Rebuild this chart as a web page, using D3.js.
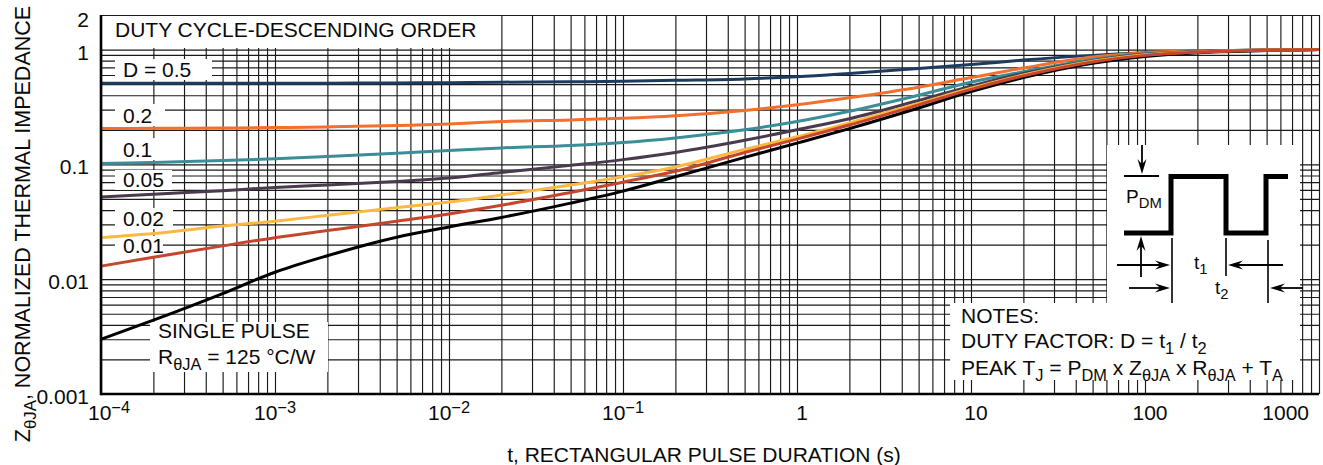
<!DOCTYPE html>
<html>
<head>
<meta charset="utf-8" />
<title></title>
<style>
html, body {
    padding: 0px;
    margin: 0px;
    background: #fff;
}
svg text {
    font-family: "Liberation Sans", Arial, Helvetica, sans-serif;
    fill: #0a0a0a;
}
.grid line {
    stroke: #1a1a1a;
    stroke-width: 1.15;
}
</style>
</head>
<body>
<svg id="chart" width="1323" height="465"></svg>

<script src="https://d3js.org/d3.v7.min.js"></script>
<script>
!(function(){
    "use strict"

    // pulse duration (s)
    var pulseT = [1e-4, 2e-4, 5e-4, 1e-3, 2e-3, 5e-3, 1e-2, 2e-2, 5e-2, 0.1, 0.2, 0.5, 1, 2, 5, 10, 20, 50, 100, 200, 500, 1000]

    // normalized thermal impedance, one array per duty cycle
    var zD05   = [0.508, 0.508, 0.508, 0.508, 0.509, 0.512, 0.515, 0.52, 0.524, 0.53, 0.54, 0.555, 0.58, 0.62, 0.685, 0.74, 0.81, 0.89, 0.94, 0.97, 0.99, 1.0]
    var zD02   = [0.205, 0.206, 0.207, 0.209, 0.212, 0.218, 0.225, 0.236, 0.244, 0.252, 0.265, 0.295, 0.33, 0.38, 0.47, 0.57, 0.69, 0.86, 0.94, 0.97, 0.99, 1.0]
    var zD01   = [0.102, 0.104, 0.108, 0.112, 0.117, 0.125, 0.132, 0.139, 0.146, 0.155, 0.17, 0.2, 0.236, 0.29, 0.40, 0.52, 0.64, 0.82, 0.92, 0.96, 0.99, 1.0]
    var zD005  = [0.052, 0.055, 0.059, 0.063, 0.066, 0.071, 0.076, 0.085, 0.098, 0.11, 0.127, 0.162, 0.2, 0.25, 0.36, 0.48, 0.62, 0.80, 0.91, 0.96, 0.99, 1.0]
    var zD002  = [0.023, 0.025, 0.029, 0.032, 0.036, 0.042, 0.047, 0.054, 0.066, 0.078, 0.095, 0.135, 0.174, 0.23, 0.34, 0.46, 0.60, 0.79, 0.90, 0.95, 0.99, 1.0]
    var zD001  = [0.013, 0.0155, 0.0195, 0.023, 0.0265, 0.032, 0.037, 0.044, 0.057, 0.07, 0.087, 0.127, 0.166, 0.22, 0.33, 0.45, 0.59, 0.78, 0.89, 0.95, 0.99, 1.0]
    var zSingle = [0.0030, 0.0044, 0.0075, 0.0115, 0.016, 0.0232, 0.0285, 0.0345, 0.046, 0.0585, 0.078, 0.115, 0.153, 0.205, 0.31, 0.43, 0.57, 0.76, 0.87, 0.94, 0.98, 1.0]

    // drawing order (black under the coloured ones)
    var seriesList = [
        {z: zD05,    color: "#1d3b5e"},
        {z: zD02,    color: "#f2702c"},
        {z: zD01,    color: "#3a8e97"},
        {z: zD005,   color: "#4a3a4e"},
        {z: zSingle, color: "#000000"},
        {z: zD002,   color: "#fbb842"},
        {z: zD001,   color: "#c6462d"}
    ]

    var xTickVals = [1e-4, 1e-3, 1e-2, 1e-1, 1, 10, 100, 1000]
    var xTickLabels = [["10", "\u22124"], ["10", "\u22123"], ["10", "\u22122"], ["10", "\u22121"], ["1"], ["10"], ["100"], ["1000"]]
    var yTickVals = [0.001, 0.01, 0.1, 1, 2]
    var yTickLabels = ["0.001", "0.01", "0.1", "1", "2"]

    var seriesLabels = [
        {text: "D = 0.5", box: [115, 59, 97, 21], y: 77},
        {text: "0.2",     box: [115, 104, 50, 22], y: 123},
        {text: "0.1",     box: [115, 138, 50, 22], y: 157},
        {text: "0.05",    box: [115, 170, 57, 20], y: 187},
        {text: "0.02",    box: [115, 208, 58, 21], y: 226},
        {text: "0.01",    box: [115, 236, 48, 20], y: 253}
    ]

    var FS = 21

    var svg = d3.select("#chart")

    var x = d3.scaleLog().domain([1e-4, 1000]).range([101, 1319])
    var y = d3.scaleLog().domain([0.001, 2]).range([394, 15])

    // grid values: 1..9 of every decade
    var gridX = [], gridY = []
    d3.range(-4, 3).forEach(function(k){
        d3.range(1, 10).forEach(function(m){ gridX.push(m * Math.pow(10, k)) })
    })
    gridX.push(1000)
    d3.range(-3, 0).forEach(function(k){
        d3.range(1, 10).forEach(function(m){ gridY.push(m * Math.pow(10, k)) })
    })
    gridY.push(1, 2)

    svg.append("g")
        .attr("class", "grid")
        .attr("transform", "translate(0," + y.range()[0] + ")")
        .call(d3.axisBottom(x).tickValues(gridX).tickSize(y.range()[1] - y.range()[0]).tickFormat(""))
        .call(function(g){ g.select(".domain").remove() })

    svg.append("g")
        .attr("class", "grid")
        .attr("transform", "translate(" + x.range()[0] + ",0)")
        .call(d3.axisLeft(y).tickValues(gridY).tickSize(x.range()[0] - x.range()[1]).tickFormat(""))
        .call(function(g){ g.select(".domain").remove() })

    // rich text helper: parts are strings or [text, "sub"|"sup"]
    function rich(sel, px, py, parts, size) {
        var t = sel.append("text").attr("x", px).attr("y", py).style("font-size", size + "px")
        var shift = 0
        parts.forEach(function(p){
            var s = typeof p === "string" ? [p, ""] : p
            var target = s[1] === "sub" ? size * 0.27 : (s[1] === "sup" ? -size * 0.34 : 0)
            t.append("tspan")
                .attr("dy", target - shift)
                .style("font-size", (s[1] ? size * 0.78 : size) + "px")
                .text(s[0])
            shift = target
        })
        return t
    }

    function whiteBox(bx, by, bw, bh) {
        svg.append("rect").attr("x", bx).attr("y", by).attr("width", bw).attr("height", bh).attr("fill", "#fff")
    }

    // white panels that hide the grid
    whiteBox(102, 16, 388, 32)
    seriesLabels.forEach(function(d){ whiteBox(d.box[0], d.box[1], d.box[2], d.box[3]) })
    whiteBox(150, 322, 178, 50)
    whiteBox(1107, 145, 193, 160)
    whiteBox(950, 303, 350, 77)

    // curves
    var line = d3.line()
        .x(function(d){ return x(d[0]) })
        .y(function(d){ return y(d[1]) })
        .curve(d3.curveMonotoneX)

    svg.append("g").selectAll("path")
        .data(seriesList)
        .enter()
        .append("path")
        .attr("d", function(s){ return line(pulseT.map(function(t, i){ return [t, s.z[i]] })) })
        .attr("fill", "none")
        .attr("stroke", function(s){ return s.color })
        .attr("stroke-width", 3)

    // axis frame
    svg.append("line").attr("x1", x.range()[0]).attr("x2", x.range()[0]).attr("y1", y.range()[1]).attr("y2", y.range()[0] + 1.2)
        .attr("stroke", "#000").attr("stroke-width", 2.6)
    svg.append("line").attr("x1", x.range()[0]).attr("x2", x.range()[1]).attr("y1", y.range()[0]).attr("y2", y.range()[0])
        .attr("stroke", "#000").attr("stroke-width", 2.6)

    // y tick labels
    svg.append("g").selectAll("text")
        .data(yTickVals)
        .enter()
        .append("text")
        .attr("x", 89)
        .attr("y", function(d, i){ return y(d) + (i === yTickVals.length - 1 ? 12 : 10) })
        .attr("text-anchor", "end")
        .style("font-size", FS + "px")
        .text(function(d, i){ return yTickLabels[i] })

    // x tick labels
    xTickVals.forEach(function(v, i){
        var lab = xTickLabels[i]
        var parts = lab.length > 1 ? [lab[0], [lab[1], "sup"]] : [lab[0]]
        var t = rich(svg, x(v), 420, parts, FS).attr("text-anchor", "middle")
        if (i === 0) t.attr("text-anchor", "start").attr("x", x(v) - 13)
        if (i === xTickVals.length - 1) t.attr("text-anchor", "end").attr("x", x(v) - 10)
        if (i > 3 && i < xTickVals.length - 1) t.attr("x", x(v) + 5)
    })

    // axis titles
    rich(svg, 704, 462, ["t, RECTANGULAR PULSE DURATION (s)"], FS).attr("text-anchor", "middle")
    rich(svg, 0, 0, ["Z", ["\u03b8JA", "sub"], ", NORMALIZED THERMAL IMPEDANCE"], 21.5)
        .attr("text-anchor", "middle")
        .attr("transform", "translate(30,224) rotate(-90)")

    // annotations
    rich(svg, 115, 37, ["DUTY CYCLE-DESCENDING ORDER"], FS)
    seriesLabels.forEach(function(d){ rich(svg, 123, d.y, [d.text], FS) })
    rich(svg, 158, 338, ["SINGLE PULSE"], FS)
    rich(svg, 158, 364, ["R", ["\u03b8JA", "sub"], " = 125 \u00b0C/W"], FS)

    rich(svg, 961, 323, ["NOTES:"], FS)
    rich(svg, 961, 348, ["DUTY FACTOR: D = t", ["1", "sub"], " / t", ["2", "sub"]], FS)
    rich(svg, 961, 375, ["PEAK T", ["J", "sub"], " = P", ["DM", "sub"], " x Z", ["\u03b8JA", "sub"], " x R", ["\u03b8JA", "sub"], " + T", ["A", "sub"]], FS)

    // pulse diagram
    var pd = svg.append("g")
    function seg(x1, y1, x2, y2, w) {
        pd.append("line").attr("x1", x1).attr("y1", y1).attr("x2", x2).attr("y2", y2)
            .attr("stroke", "#000").attr("stroke-width", w || 1.6)
    }
    function arrow(x1, y1, x2, y2) {
        // line from (x1,y1) with a filled head at (x2,y2)
        var ang = Math.atan2(y2 - y1, x2 - x1), L = 15, W = 4.5
        var bx = x2 - L * Math.cos(ang), by = y2 - L * Math.sin(ang)
        var nx = -Math.sin(ang) * W, ny = Math.cos(ang) * W
        var mx = x2 - L * 0.65 * Math.cos(ang), my = y2 - L * 0.65 * Math.sin(ang)
        seg(x1, y1, mx, my, 1.8)
        pd.append("path")
            .attr("d", "M" + x2 + "," + y2 + "L" + (bx + nx) + "," + (by + ny) + "L" + mx + "," + my + "L" + (bx - nx) + "," + (by - ny) + "Z")
            .attr("fill", "#000")
    }
    pd.append("path")
        .attr("d", "M1124,233H1171V176.5H1226V233H1266V176.5H1288")
        .attr("fill", "none").attr("stroke", "#000").attr("stroke-width", 5)
    seg(1124, 176, 1159, 176, 1.8)
    arrow(1142, 145, 1142, 174)
    arrow(1141, 277, 1141, 236)
    seg(1172, 238, 1172, 303)
    seg(1226, 238, 1226, 276)
    seg(1268, 240, 1268, 303)
    arrow(1117, 265, 1170, 265)
    arrow(1283, 265, 1228, 265)
    arrow(1129, 288, 1170, 288)
    arrow(1303, 288, 1270, 288)
    rich(pd, 1126, 203, ["P", ["DM", "sub"]], 19)
    rich(pd, 1194, 269, ["t", ["1", "sub"]], 19)
    rich(pd, 1215, 294, ["t", ["2", "sub"]], 19)

}());
</script>
</body>
</html>
